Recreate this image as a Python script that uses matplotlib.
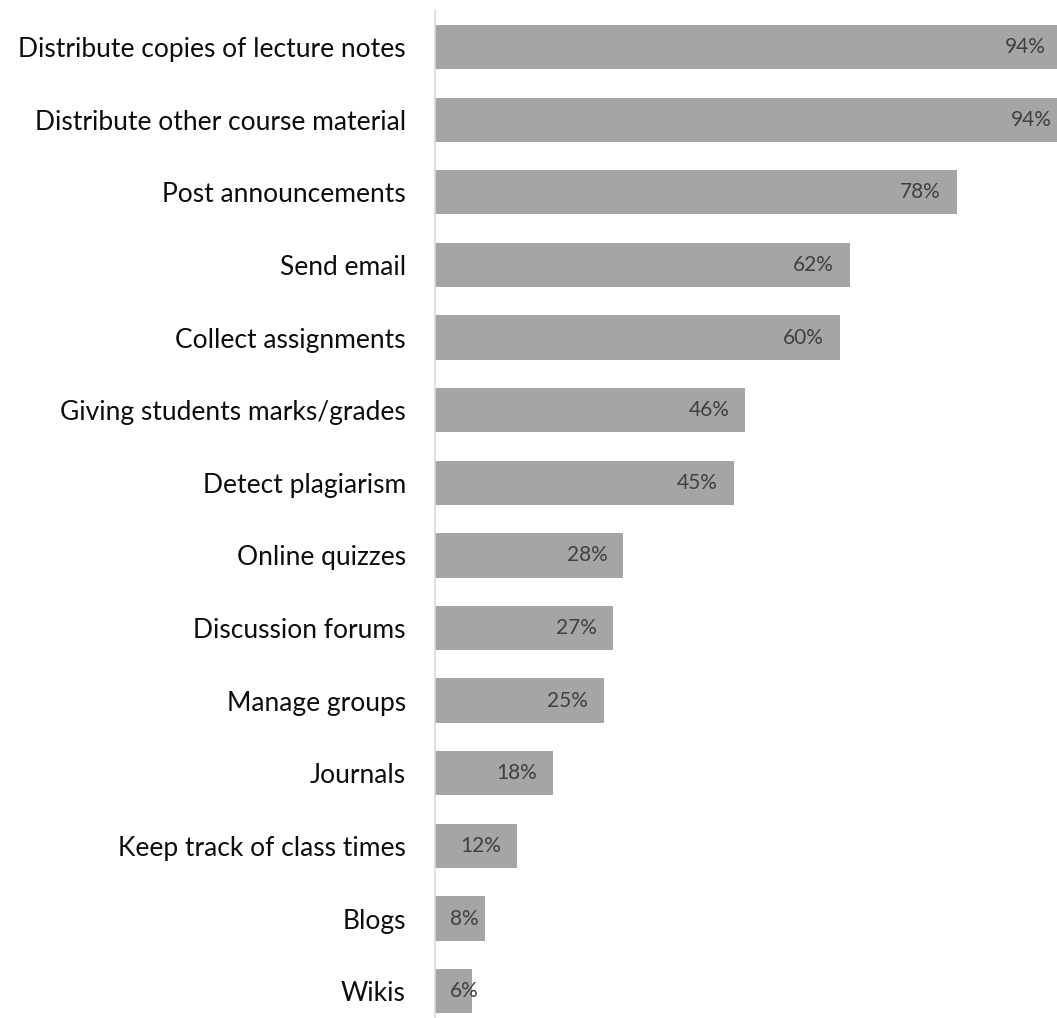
import matplotlib
matplotlib.use('Agg')
import matplotlib.pyplot as plt

categories = ['Distribute copies of lecture notes', 'Distribute other course material',
              'Post announcements', 'Send email', 'Collect assignments',
              'Giving students marks/grades', 'Detect plagiarism', 'Online quizzes',
              'Discussion forums', 'Manage groups', 'Journals',
              'Keep track of class times', 'Blogs', 'Wikis']
# bar lengths (labels are the rounded figures)
values = [93.6, 94.4, 77.9, 61.9, 60.4, 46.3, 44.6, 28.1, 26.6, 25.2, 17.6, 12.2, 7.5, 5.5]
value_labels = ['94%', '94%', '78%', '62%', '60%', '46%', '45%', '28%',
                '27%', '25%', '18%', '12%', '8%', '6%']

plt.rcParams['font.family'] = ['Lato', 'DejaVu Sans']

W, H = 1057, 1018
fig = plt.figure(figsize=(W / 100, H / 100), dpi=100)
# axes runs past the right edge so the two 94% bars get clipped like the original
ax = fig.add_axes([435 / W, 0, 670 / W, 1 - 10 / H])

pos = list(range(len(categories)))
ax.barh(pos, values, height=0.61, color='#a5a5a5')
ax.set_xlim(0, 100)
ax.set_ylim(13.37, -0.51)

px = 100 / 670.0  # data units per pixel
renderer = fig.canvas.get_renderer()
for y, v, lab in zip(pos, values, value_labels):
    t = ax.text(0, y, lab, ha='left', va='center', fontsize=15, color='#404040')
    w = t.get_window_extent(renderer).width * px
    # inside end, but never closer than 15px to the axis
    t.set_x(max(v - 16 * px - w, 15 * px))

ax.set_yticks(pos)
ax.set_yticklabels(categories, fontsize=19, color='#0d0d0d')
ax.tick_params(axis='y', length=0, pad=21)
ax.set_xticks([])
for s in ['top', 'right', 'bottom']:
    ax.spines[s].set_visible(False)
ax.spines['left'].set_color('#d9d9d9')
ax.spines['left'].set_linewidth(1.2)

fig.savefig('out.png', dpi=100)
